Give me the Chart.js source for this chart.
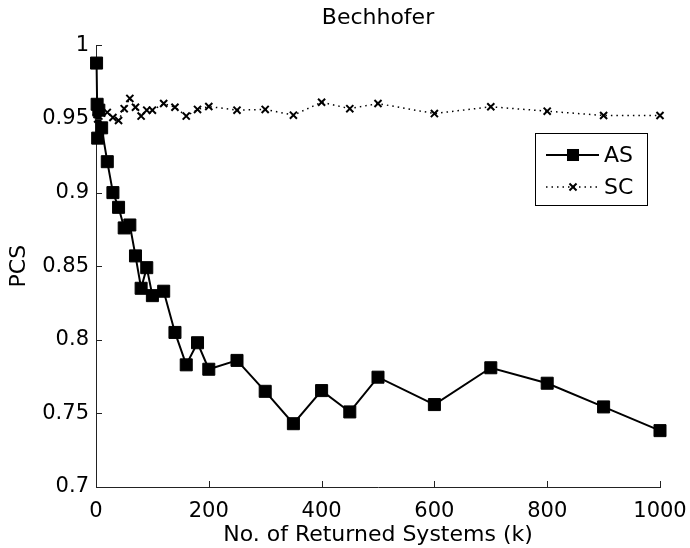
<!DOCTYPE html>
<html>
<head>
<meta charset="utf-8">
<script src="https://cdn.jsdelivr.net/npm/chart.js@4/dist/chart.umd.min.js"></script>
<style>
  html, body { margin: 0; padding: 0; background: #fff; }
  canvas { display: block; }
</style>
</head>
<body>
<canvas id="pcsChart" width="690" height="548"></canvas>
<script>
// data
const kValues = [1, 2, 3, 5, 10, 20, 30, 40, 50, 60, 70, 80, 90, 100, 120, 140, 160, 180, 200,
    250, 300, 350, 400, 450, 500, 600, 700, 800, 900, 1000];
const asValues = [0.988, 0.960, 0.937, 0.956, 0.944, 0.921, 0.900, 0.890, 0.876, 0.878, 0.857, 0.835,
    0.849, 0.830, 0.833, 0.805, 0.783, 0.798, 0.780, 0.786, 0.765, 0.743, 0.7655, 0.751, 0.7746,
    0.756, 0.781, 0.7705, 0.7544, 0.7383];
const scValues = [0.955, 0.953, 0.950, 0.952, 0.954, 0.9545, 0.951, 0.949, 0.957, 0.964, 0.958, 0.952,
    0.956, 0.956, 0.9605, 0.958, 0.952, 0.9565, 0.9585, 0.956, 0.9565, 0.9526, 0.9614, 0.957, 0.9605,
    0.9537, 0.9583, 0.9553, 0.9524, 0.9524];
const xTicks = [0, 200, 400, 600, 800, 1000];
const yTicks = [0.7, 0.75, 0.8, 0.85, 0.9, 0.95, 1];
const seriesNames = ['AS', 'SC'];

const FONT = '"DejaVu Sans", "Liberation Sans", Arial, sans-serif';

const toPoints = (vals) => kValues.map((k, i) => ({ x: k, y: vals[i] }));

// MATLAB style ticks that point into the plot
const inwardTicks = {
    id: 'inwardTicks',
    afterDraw(chart) {
        const ctx = chart.ctx;
        const xs = chart.scales.x;
        const ys = chart.scales.y;
        ctx.save();
        ctx.strokeStyle = '#222';
        ctx.lineWidth = 1;
        ctx.beginPath();
        xs.ticks.forEach(t => {
            const px = Math.round(xs.getPixelForValue(t.value)) + 0.5;
            ctx.moveTo(px, ys.bottom);
            ctx.lineTo(px, ys.bottom - 6);
        });
        ys.ticks.forEach(t => {
            const py = Math.round(ys.getPixelForValue(t.value)) + 0.5;
            ctx.moveTo(xs.left, py);
            ctx.lineTo(xs.left + 6, py);
        });
        ctx.stroke();
        ctx.restore();
    }
};

// boxed legend in the upper right of the plot
const boxLegend = {
    id: 'boxLegend',
    afterDraw(chart) {
        const ctx = chart.ctx;
        const x0 = 535, y0 = 133, w = 112, h = 72;
        ctx.save();
        ctx.fillStyle = '#fff';
        ctx.fillRect(x0, y0, w, h);
        ctx.strokeStyle = '#000';
        ctx.lineWidth = 1;
        ctx.strokeRect(x0 + 0.5, y0 + 0.5, w, h);

        chart.data.datasets.forEach((ds, i) => {
            const cy = y0 + 22 + i * 32;
            ctx.strokeStyle = ds.borderColor;
            ctx.lineWidth = ds.borderWidth;
            ctx.setLineDash(ds.borderDash || []);
            ctx.beginPath();
            ctx.moveTo(x0 + 11, cy);
            ctx.lineTo(x0 + 64, cy);
            ctx.stroke();
            ctx.setLineDash([]);
            const mx = x0 + 38;
            if (ds.pointStyle === 'rect') {
                const s = ds.pointRadius / Math.SQRT2;
                ctx.fillStyle = ds.pointBackgroundColor;
                ctx.fillRect(mx - s, cy - s, 2 * s, 2 * s);
            } else {
                const s = ds.pointRadius * Math.SQRT1_2;
                ctx.lineWidth = ds.pointBorderWidth;
                ctx.beginPath();
                ctx.moveTo(mx - s, cy - s); ctx.lineTo(mx + s, cy + s);
                ctx.moveTo(mx - s, cy + s); ctx.lineTo(mx + s, cy - s);
                ctx.stroke();
            }
            ctx.fillStyle = '#000';
            ctx.font = '22px ' + FONT;
            ctx.textBaseline = 'middle';
            ctx.fillText(ds.label, x0 + 69, cy + 1);
        });
        ctx.restore();
    }
};

new Chart(document.getElementById('pcsChart'), {
    type: 'scatter',
    data: {
        datasets: [
            {
                label: seriesNames[0],
                data: toPoints(asValues),
                showLine: true,
                clip: false,
                borderColor: '#000',
                borderWidth: 2,
                pointStyle: 'rect',
                pointRadius: 8.5,
                pointBackgroundColor: '#000',
                pointBorderColor: '#000',
                pointBorderWidth: 1
            },
            {
                label: seriesNames[1],
                data: toPoints(scValues),
                showLine: true,
                clip: false,
                borderColor: '#000',
                borderWidth: 1.5,
                borderDash: [1.5, 4],
                pointStyle: 'crossRot',
                pointRadius: 5,
                pointBorderColor: '#000',
                pointBorderWidth: 2
            }
        ]
    },
    options: {
        responsive: false,
        animation: false,
        layout: { padding: { left: 0, right: 30, top: 0, bottom: 0 } },
        plugins: {
            legend: { display: false },
            tooltip: { enabled: false },
            title: {
                display: true,
                text: 'Bechhofer',
                fullSize: false,
                color: '#000',
                font: { family: FONT, size: 22, weight: 'normal' },
                padding: { top: 5, bottom: 14 }
            }
        },
        scales: {
            x: {
                type: 'linear',
                min: 0,
                max: 1000,
                afterBuildTicks: (s) => { s.ticks = xTicks.map(v => ({ value: v })); },
                afterFit: (s) => { s.height = 61; s.paddingLeft = 0; s.paddingRight = 0; },
                grid: { display: false, drawTicks: false },
                border: { display: true, color: '#222', width: 1 },
                ticks: {
                    color: '#000',
                    padding: 12,
                    maxRotation: 0,
                    font: { family: FONT, size: 21 },
                    callback: (v) => String(v)
                },
                title: {
                    display: true,
                    text: 'No. of Returned Systems (k)',
                    color: '#000',
                    font: { family: FONT, size: 22 },
                    padding: { top: 0, bottom: 0 }
                }
            },
            y: {
                type: 'linear',
                min: 0.7,
                max: 1,
                afterBuildTicks: (s) => { s.ticks = yTicks.map(v => ({ value: v })); },
                afterFit: (s) => { s.width = 96; s.paddingTop = 0; s.paddingBottom = 0; },
                grid: { display: false, drawTicks: false },
                border: { display: true, color: '#222', width: 1 },
                ticks: {
                    color: '#000',
                    padding: 7,
                    font: { family: FONT, size: 21 },
                    callback: (v) => String(v)
                },
                title: {
                    display: true,
                    text: 'PCS',
                    color: '#000',
                    font: { family: FONT, size: 22 },
                    padding: { top: 6, bottom: 0 }
                }
            }
        }
    },
    plugins: [inwardTicks, boxLegend]
});
</script>
</body>
</html>
